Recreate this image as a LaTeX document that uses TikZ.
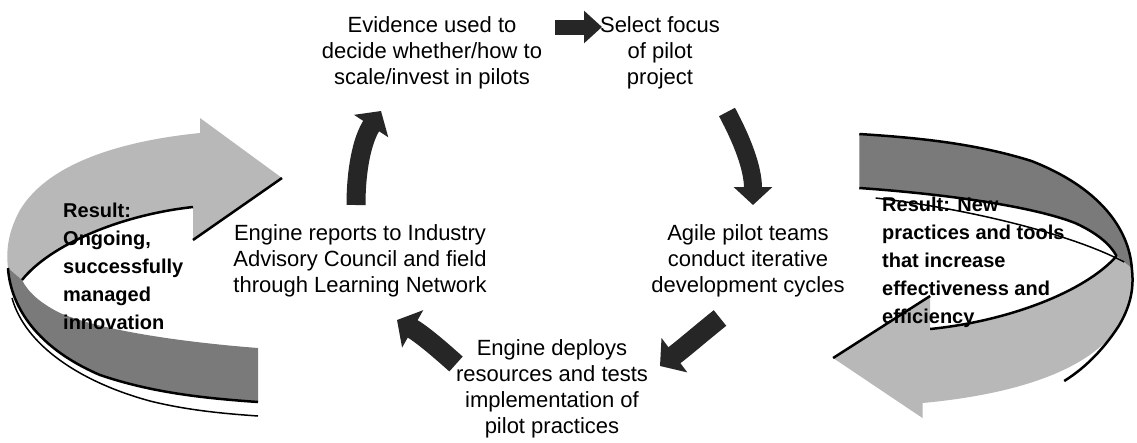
\documentclass[tikz,border=0pt]{standalone}
\usepackage{fontspec}
\setmainfont{Liberation Sans}
\usetikzlibrary{arrows.meta}
\newcommand{\regfont}{\fontsize{22}{26}\selectfont}
\newcommand{\boldfont}{\fontsize{20}{28}\selectfont\bfseries}
\newcommand{\swooshbody}{%
  \fill[headfill] (22,280) .. controls (50,245) and (120,215) .. (193,207) -- (193,240) -- (282,178) -- (200,118) -- (200,133) .. controls (130,140) and (50,160) .. (20,210) .. controls (8,232) and (6,250) .. (8,268) -- cycle;
  \fill[tailfill] (8,268) .. controls (10,300) and (30,345) .. (100,375) .. controls (150,392) and (200,398) .. (258,402) -- (258,348) .. controls (180,342) and (100,330) .. (60,313) .. controls (40,303) and (28,292) .. (22,280) -- cycle;
  \draw[edgeline] (22,280) .. controls (50,245) and (120,215) .. (193,207);
  \draw[edgeline] (193,240) -- (282,178);
  \draw[edgeline] (8,268) .. controls (10,300) and (30,345) .. (100,375) .. controls (150,392) and (200,398) .. (258,402);
}
\tikzset{
  headfill/.style={fill=black!28},
  tailfill/.style={fill=black!52},
  edgeline/.style={draw=black, line width=2.5pt},
  rimline/.style={draw=black, line width=1.5pt},
  txt/.style={font=\regfont, align=center, inner sep=0pt, anchor=north},
  btxt/.style={font=\boldfont, align=left, inner sep=0pt, anchor=north west},
  sarrow/.style={draw=black!85, line width=#1, -{Triangle[length=18pt, width=2.1*#1]}},
  sarrow/.default=18pt
}
\begin{document}
\begin{tikzpicture}[x=1pt, y=-1pt]
\useasboundingbox (0,0) rectangle (1137,442);
\fill[white] (0,0) rectangle (1137,442);

% left swoosh
\begin{scope}
  \swooshbody
  \draw[rimline] (12,298) .. controls (25,345) and (80,382) .. (150,401) .. controls (190,411) and (230,414) .. (258,416);
\end{scope}

% right swoosh (rotated copy)
\begin{scope}[shift={(1140.5,536)}, xscale=-1.09, yscale=-1]
  \swooshbody
  \draw[edgeline] (258,348) .. controls (180,342) and (100,330) .. (60,313) .. controls (40,303) and (28,292) .. (22,280);
  \draw[rimline] (243,338) .. controls (150,326) and (60,300) .. (15,274);
  \draw[edgeline] (8,268) .. controls (6,250) and (8,232) .. (20,210) .. controls (32,190) and (48,170) .. (70,155);
\end{scope}

% text nodes
\node[txt] (evid) at (432,16) {Evidence used to\\decide whether/how to\\scale/invest in pilots};
\node[txt] (sel) at (660,16) {Select focus\\of pilot\\project};
\node[txt] (agile) at (748,224) {Agile pilot teams\\conduct iterative\\development cycles};
\node[txt] (rep) at (360,224) {Engine reports to Industry\\Advisory Council and field\\through Learning Network};
\node[txt] (depl) at (552,339) {Engine deploys\\resources and tests\\implementation of\\pilot practices};
\node[btxt] (resl) at (63,203) {Result:\\Ongoing,\\successfully\\managed\\innovation};
\node[btxt] (resr) at (882,197) {Result: New\\practices and tools\\that increase\\effectiveness and\\efficiency};

% small cycle arrows
\coordinate (a1s) at (555,27); \coordinate (a1e) at (602,27);
\coordinate (a2s) at (727,112); \coordinate (a2e) at (753,205);
\coordinate (a3s) at (720,318); \coordinate (a3e) at (660,366);
\coordinate (a4s) at (456,364); \coordinate (a4e) at (397,320);
\coordinate (a5s) at (356,205); \coordinate (a5e) at (381,111);
\draw[sarrow=15pt] (a1s) -- (a1e);
\draw[sarrow=18pt] (a2s) .. controls (742,140) and (753,168) .. (a2e);
\draw[sarrow=20pt] (a3s) .. controls (700,334) and (684,348) .. (a3e);
\draw[sarrow=20pt] (a4s) .. controls (436,346) and (420,333) .. (a4e);
\draw[sarrow=19pt] (a5s) .. controls (356,170) and (362,140) .. (a5e);
\end{tikzpicture}
\end{document}
